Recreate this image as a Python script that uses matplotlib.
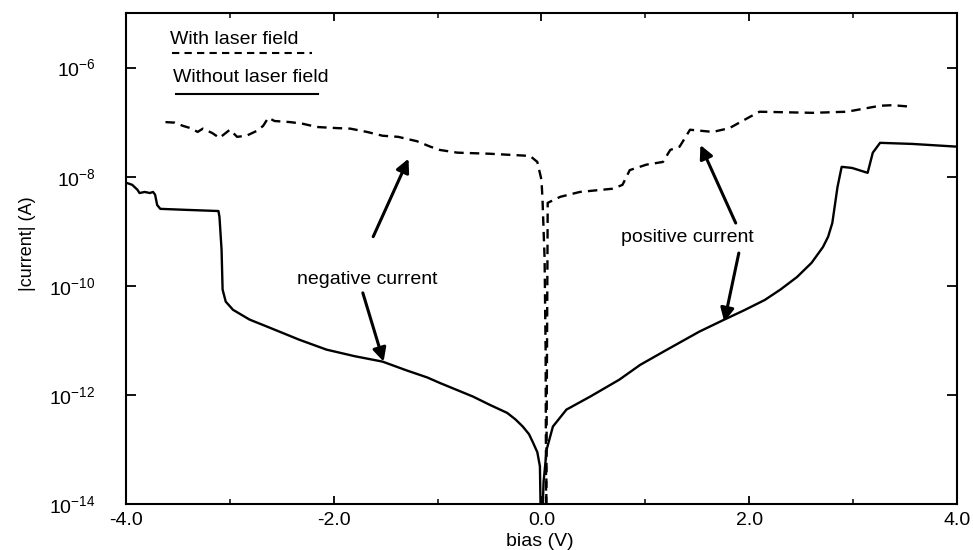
import matplotlib
matplotlib.use("Agg")
import matplotlib.pyplot as plt
from matplotlib.ticker import FixedLocator, NullLocator
import numpy as np

plt.rcParams['font.family'] = ['Liberation Sans', 'DejaVu Sans']
plt.rcParams['mathtext.fontset'] = 'custom'
plt.rcParams['mathtext.rm'] = 'Liberation Sans'
plt.rcParams['mathtext.it'] = 'Liberation Sans'

# I-V curve without laser field (bias in V, log10 of |current| in A)
bias_off = [-4.0, -3.94, -3.89, -3.87, -3.82, -3.77, -3.74, -3.72, -3.70, -3.67,
            -3.40, -3.11, -3.10, -3.08, -3.07, -3.04, -2.97, -2.81, -2.64, -2.33,
            -2.07, -1.80, -1.53, -1.30, -1.10, -0.98, -0.66, -0.50, -0.33, -0.25,
            -0.18, -0.12, -0.08, -0.04, -0.015, -0.005, 0.005, 0.02, 0.05, 0.11,
            0.24, 0.47, 0.75, 0.95, 1.20, 1.52, 1.76, 1.95, 2.15, 2.30,
            2.46, 2.60, 2.71, 2.76, 2.80, 2.85, 2.89, 2.99, 3.14, 3.19,
            3.26, 3.57, 4.0]
logi_off = [-8.11, -8.15, -8.24, -8.30, -8.28, -8.30, -8.28, -8.33, -8.52, -8.59,
            -8.61, -8.63, -8.74, -9.34, -10.07, -10.29, -10.44, -10.62, -10.75, -10.99,
            -11.17, -11.29, -11.39, -11.55, -11.68, -11.78, -12.03, -12.18, -12.33, -12.45,
            -12.58, -12.72, -12.88, -13.05, -13.31, -14.5, -14.5, -13.6, -13.0, -12.58,
            -12.27, -12.03, -11.72, -11.45, -11.18, -10.84, -10.62, -10.45, -10.26, -10.07,
            -9.84, -9.58, -9.29, -9.10, -8.85, -8.19, -7.82, -7.84, -7.93, -7.56,
            -7.38, -7.40, -7.45]

# I-V curve with laser field
bias_on = [-3.62, -3.53, -3.45, -3.38, -3.31, -3.26, -3.17, -3.10, -3.00, -2.93,
           -2.84, -2.74, -2.68, -2.63, -2.57, -2.42, -2.30, -2.16, -1.97, -1.84,
           -1.68, -1.53, -1.38, -1.20, -1.07, -0.98, -0.81, -0.50, -0.11, -0.04,
           0.0, 0.01, 0.03, 0.04, 0.045, 0.06, 0.18, 0.37, 0.69, 0.78,
           0.85, 1.01, 1.17, 1.24, 1.33, 1.43, 1.65, 1.81, 2.01, 2.10,
           2.61, 2.94, 3.26, 3.38, 3.57]
logi_on = [-7.00, -7.01, -7.07, -7.11, -7.18, -7.12, -7.20, -7.29, -7.14, -7.27,
           -7.25, -7.16, -7.07, -6.92, -6.98, -7.00, -7.03, -7.09, -7.11, -7.12,
           -7.18, -7.25, -7.27, -7.35, -7.45, -7.51, -7.56, -7.58, -7.62, -7.73,
           -8.06, -8.42, -9.5, -11.2, -14.5, -8.48, -8.37, -8.28, -8.22, -8.15,
           -7.88, -7.78, -7.73, -7.51, -7.45, -7.14, -7.18, -7.11, -6.90, -6.81,
           -6.83, -6.81, -6.70, -6.69, -6.72]

xticks = [-4.0, -2.0, 0.0, 2.0, 4.0]
xtick_labels = ['-4.0', '-2.0', '0.0', '2.0', '4.0']
xminor = [-3.0, -1.0, 1.0, 3.0]
yexp = [-14, -12, -10, -8, -6]

fig = plt.figure(figsize=(9.73, 5.5), dpi=100)
ax = fig.add_axes([0.1295, 0.0836, 0.8540, 0.8928])

dash = (4, 2.6)
ax.plot(bias_off, 10.0 ** np.array(logi_off), color='black', lw=1.7)
ax.plot(bias_on, 10.0 ** np.array(logi_on), color='black', lw=1.7,
        linestyle=(0, dash))

ax.set_yscale('log')
ax.set_xlim(-4.0, 4.0)
ax.set_ylim(1e-14, 1e-5)

ax.xaxis.set_major_locator(FixedLocator(xticks))
ax.xaxis.set_minor_locator(FixedLocator(xminor))
ax.set_xticklabels(xtick_labels)
ax.yaxis.set_major_locator(FixedLocator([10.0 ** e for e in yexp]))
ax.yaxis.set_minor_locator(NullLocator())
ax.set_yticklabels([r'10$^{%d}$' % e for e in yexp])

ax.tick_params(axis='x', which='major', direction='in', length=6, width=1.3,
               top=True, labelsize=14, pad=6)
ax.tick_params(axis='x', which='minor', direction='in', length=3.5, width=1.1,
               top=True)
ax.tick_params(axis='y', which='major', direction='in', length=7, width=1.3,
               right=True, labelsize=14, pad=22)
for s in ax.spines.values():
    s.set_linewidth(1.5)

ax.set_xlabel('bias (V)', fontsize=14)
ax.xaxis.set_label_coords(0.498, -0.058)
ax.set_ylabel('|current| (A)', fontsize=13)
ax.yaxis.set_label_coords(-0.108, 0.53)

# legend: labels sit above their line samples
ax.text(-3.58, 10 ** -5.49, 'With laser field', fontsize=14, va='center', ha='left')
ax.plot([-3.56, -2.21], [10 ** -5.73] * 2, color='black', lw=1.5,
        linestyle=(0, (3.5, 2.5)))
ax.text(-3.55, 10 ** -6.19, 'Without laser field', fontsize=14, va='center', ha='left')
ax.plot([-3.52, -2.15], [10 ** -6.48] * 2, color='black', lw=1.5)

arrow = dict(arrowstyle='-|>', color='black', lw=2.2, mutation_scale=20,
             shrinkA=0, shrinkB=0)
ax.text(-1.68, 10 ** -9.89, 'negative current', fontsize=14, ha='center', va='center')
ax.annotate('', xy=(-1.28, 10 ** -7.67), xytext=(-1.62, 10 ** -9.10), arrowprops=arrow)
ax.annotate('', xy=(-1.52, 10 ** -11.39), xytext=(-1.72, 10 ** -10.13), arrowprops=arrow)

ax.text(1.40, 10 ** -9.12, 'positive current', fontsize=14, ha='center', va='center')
ax.annotate('', xy=(1.53, 10 ** -7.42), xytext=(1.87, 10 ** -8.85), arrowprops=arrow)
ax.annotate('', xy=(1.76, 10 ** -10.66), xytext=(1.90, 10 ** -9.40), arrowprops=arrow)

fig.savefig('out.png', dpi=100)
